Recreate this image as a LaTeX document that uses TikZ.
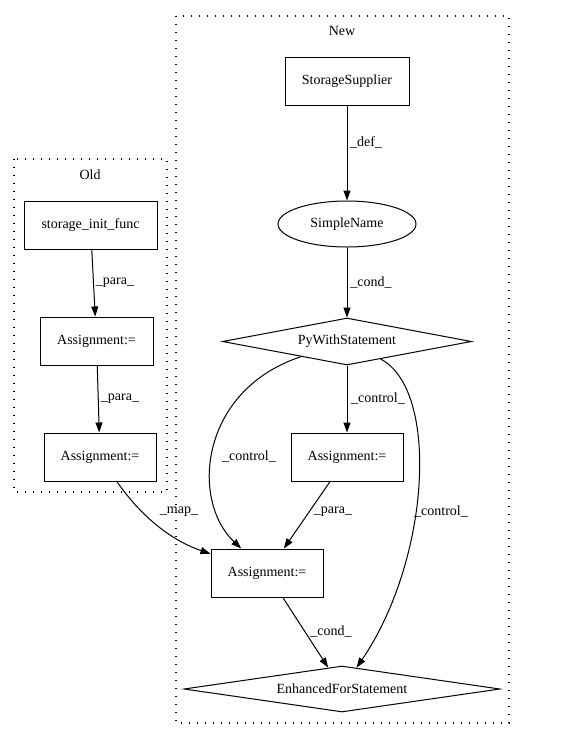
\documentclass[tikz,border=0pt]{standalone}
\usepackage{fontspec}
\setmainfont{Liberation Serif}
\usepackage{tikz}
\usetikzlibrary{shapes.geometric, arrows.meta, positioning}

\begin{document}
\begin{tikzpicture}[x=1pt, y=-1pt,
    font=\fontsize{14}{16}\selectfont,
    >={Triangle[length=10pt, width=7pt]},
    box/.style={draw, line width=1pt, inner sep=0pt, minimum width=112pt, minimum height=48pt},
    cond/.style={draw, diamond, shape aspect=6, line width=1pt, inner sep=0pt},
    oval/.style={draw, ellipse, line width=1pt, inner sep=0pt, minimum width=138pt, minimum height=46pt},
    lbl/.style={inner sep=0pt},
    cluster/.style={line width=1.1pt, dash pattern=on 1.2pt off 6.8pt},
    edge/.style={->, line width=1pt}
]
    \useasboundingbox (0,0) rectangle (584,740);

    % clusters
    \draw[cluster] (176,16) rectangle (509,723);
    \node (new) at (342,31) {New};
    \draw[cluster] (14,159) rectangle (167,492);
    \node (old) at (90,175) {Old};

    % Old
    \node[box, minimum width=133pt] (init) at (90.5,225) {storage\_init\_func};
    \node[box, minimum width=113pt] (asgA) at (96.5,341) {Assignment:=};
    \node[box] (asgB) at (100,457) {Assignment:=};

    % New
    \node[box, minimum width=124pt] (supplier) at (347,81) {StorageSupplier};
    \node[oval] (simple) at (347,224) {SimpleName};
    \node[cond, minimum width=249pt, minimum height=47pt] (pywith) at (347,341.5) {PyWithStatement};
    \node[box] (asgC) at (347,457) {Assignment:=};
    \node[box] (asgD) at (267,573) {Assignment:=};
    \node[cond, minimum width=316pt, minimum height=46pt] (efs) at (342,689) {EnhancedForStatement};

    \draw[edge] (init) -- (asgA);
    \draw[edge] (asgA) -- (asgB);
    \draw[edge] (supplier) -- (simple);
    \draw[edge] (simple) -- (pywith);
    \draw[edge] (pywith) -- (asgC);
    \draw[edge] (pywith) .. controls (200,390) and (190,500) .. (asgD);
    \draw[edge] (pywith) .. controls (440,390) and (430,560) .. (efs);
    \draw[edge] (asgC) -- (asgD);
    \draw[edge] (asgB) .. controls (140,515) and (170,540) .. (asgD);
    \draw[edge] (asgD) -- (efs);

    % edge labels
    \node[lbl] (l-para1) at (115,283) {\_para\_};
    \node[lbl] (l-para2) at (120,399) {\_para\_};
    \node[lbl] (l-def) at (366,142) {\_def\_};
    \node[lbl] (l-cond1) at (371,283) {\_cond\_};
    \node[lbl] (l-ctrl1) at (378,399) {\_control\_};
    \node[lbl] (l-ctrl2) at (249,457) {\_control\_};
    \node[lbl] (l-map) at (179,512) {\_map\_};
    \node[lbl] (l-para3) at (333,512) {\_para\_};
    \node[lbl] (l-ctrl3) at (441,512) {\_control\_};
    \node[lbl] (l-cond2) at (331,632) {\_cond\_};
\end{tikzpicture}
\end{document}
